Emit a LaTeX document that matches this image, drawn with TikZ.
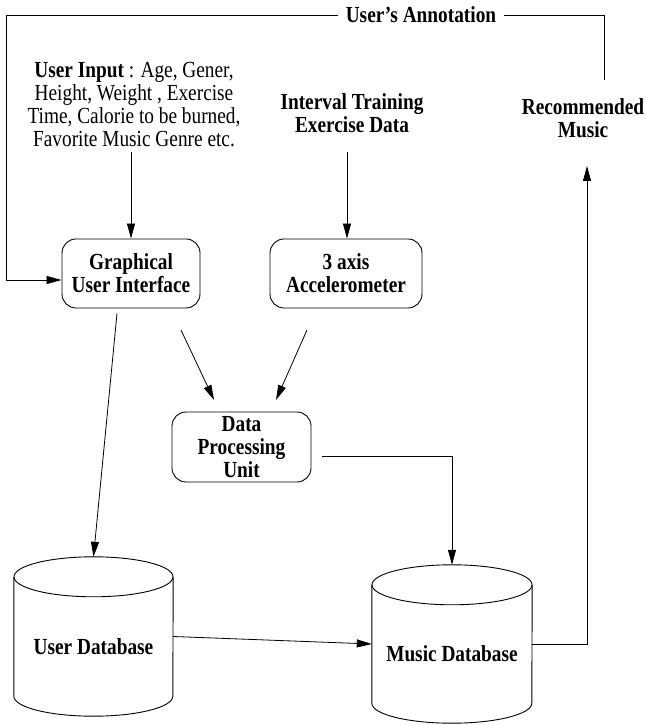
\documentclass[tikz,border=0pt]{standalone}
\usepackage{fontspec}
\setmainfont[FakeStretch=0.84]{Liberation Serif}
\usetikzlibrary{arrows.meta}
\begin{document}
\begin{tikzpicture}[x=1pt,y=1pt,
  every node/.style={font=\fontsize{23}{23}\selectfont},
  txt/.style={align=center, inner sep=0pt},
  btxt/.style={align=center, inner sep=0pt, font=\fontsize{23}{23}\selectfont\bfseries},
  box/.style={draw, line width=0.9pt, rounded corners=14pt, align=center, inner sep=0pt, font=\fontsize{23}{23}\selectfont\bfseries},
  dbbox/.style={inner sep=0pt, minimum width=159pt, minimum height=159pt},
  conn/.style={line width=0.8pt},
  arr/.style={line width=0.8pt, -{Triangle[length=15pt,width=8pt]}},
  cyl/.style={line width=0.9pt}
]
\useasboundingbox (0,0) rectangle (645,725);

% text nodes
\node[btxt, inner xsep=8pt] (ann) at (421,710) {User’s Annotation};
\node[txt] (uin) at (134,620) {\textbf{User Input} : Age, Gener,\\Height, Weight , Exercise\\Time, Calorie to be burned,\\Favorite Music Genre etc.};
\node[btxt] (itd) at (352,611.5) {Interval Training\\Exercise Data};
\node[btxt] (rec) at (583,606.5) {Recommended\\Music};

% boxes
\node[box, minimum width=138pt, minimum height=69pt] (gui) at (131,451.5) {Graphical\\User Interface};
\node[box, minimum width=152pt, minimum height=69pt] (acc) at (346,451.5) {3 axis\\Accelerometer};
\node[box, minimum width=139pt, minimum height=70pt] (dpu) at (241.5,278) {Data\\Processing\\Unit};

% databases
\node[dbbox] (udb) at (93.5,88.5) {};
\node[btxt] (udbt) at ([yshift=-10pt]udb.center) {User Database};
\draw[cyl] ([yshift=-20pt]udb.north west) -- ([yshift=20pt]udb.south west)
  arc[start angle=180, end angle=360, x radius=79.5pt, y radius=20pt]
  -- ([yshift=-20pt]udb.north east);
\draw[cyl] ([yshift=-20pt]udb.north) ellipse[x radius=79.5pt, y radius=20pt];

\node[dbbox, minimum width=160pt, minimum height=158pt] (mdb) at (452,81) {};
\node[btxt] (mdbt) at ([yshift=-10pt]mdb.center) {Music Database};
\draw[cyl] ([yshift=-20pt]mdb.north west) -- ([yshift=20pt]mdb.south west)
  arc[start angle=180, end angle=360, x radius=80pt, y radius=20pt]
  -- ([yshift=-20pt]mdb.north east);
\draw[cyl] ([yshift=-20pt]mdb.north) ellipse[x radius=80pt, y radius=20pt];

% coordinates
\coordinate (uinb) at (131,573);
\coordinate (itdb) at (347,573);
\coordinate (annR) at (604,645);
\coordinate (annL) at (6,445);
\coordinate (rectip) at (587,559);
\coordinate (g2d) at (181,395);
\coordinate (d2g) at (214,325);
\coordinate (a2d) at (307,395);
\coordinate (d2a) at (276,325);

% connectors
\draw[conn] (annR) |- (ann.east);
\draw[arr] (ann.west) -| (annL) -- ([yshift=-6.5pt]gui.west);
\draw[arr] (uinb) -- (gui.north);
\draw[arr] (itdb) -- (itdb |- acc.north);
\draw[arr] (g2d) -- (d2g);
\draw[arr] (a2d) -- (d2a);
\draw[arr] ([shift={(-14pt,-5pt)}]gui.south) -- (udb.north);
\draw[arr] (udb.east) -- (mdb.west);
\draw[arr] ([shift={(11pt,-9pt)}]dpu.east) -| (mdb.north);
\draw[arr] (mdb.east) -| (rectip);
\end{tikzpicture}
\end{document}
